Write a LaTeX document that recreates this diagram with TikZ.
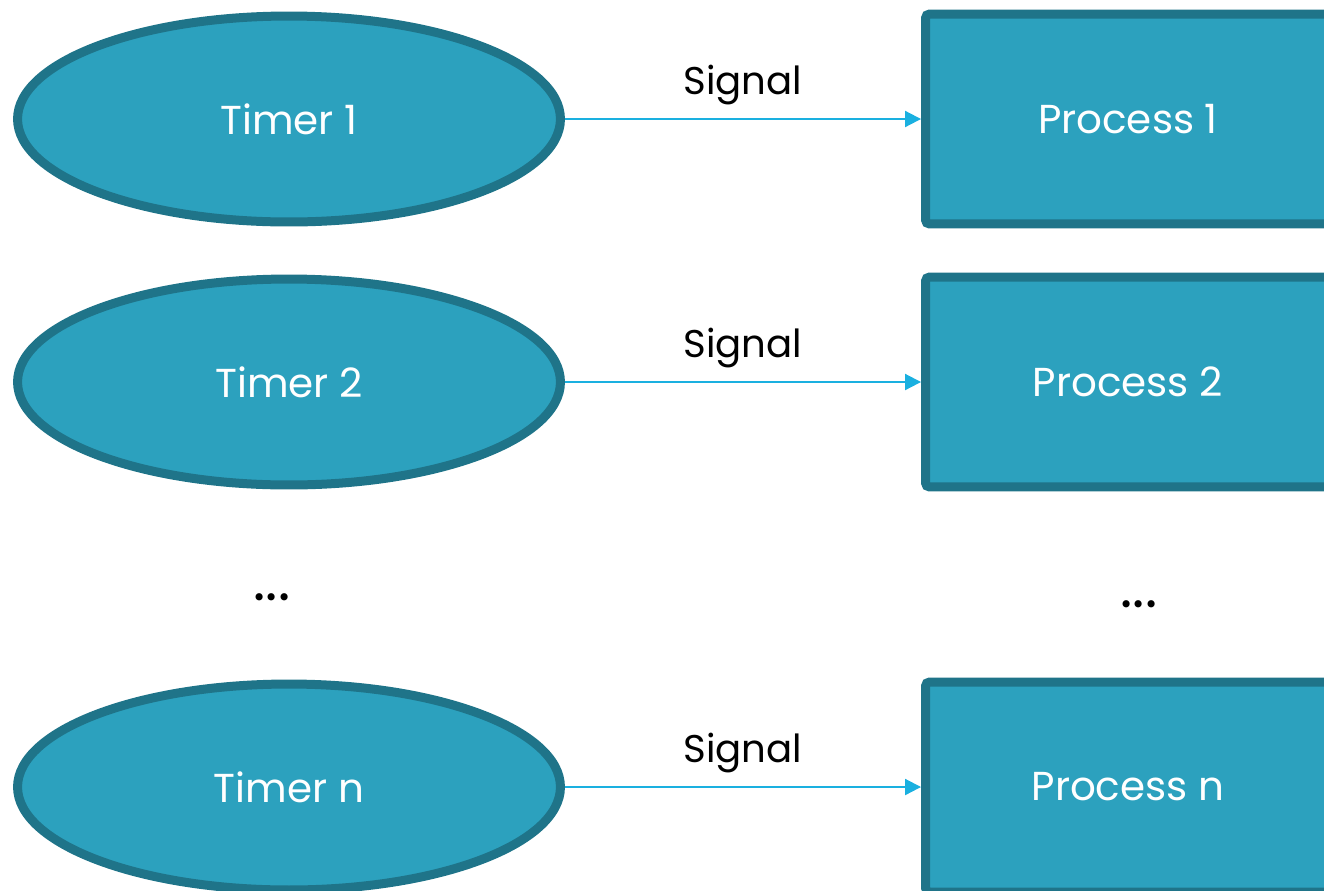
\documentclass[tikz,border=0pt]{standalone}
\usepackage{fontspec}
\setmainfont{Poppins}
\usetikzlibrary{shapes.geometric,arrows.meta}
\definecolor{timerfill}{HTML}{2CA1BE}
\definecolor{timerdraw}{HTML}{1F7489}
\definecolor{signalblue}{HTML}{1AB0E0}

\begin{document}
\begin{tikzpicture}
	[x=0.02cm, y=-0.02cm,
	timer/.style ={ellipse, draw=timerdraw, line width=0.18cm, fill=timerfill, text=white, minimum width=10.86cm, minimum height=4.12cm, inner sep=0pt, font=\fontsize{23}{28}\selectfont},
	proc/.style ={rectangle, draw=timerdraw, line width=0.18cm, fill=timerfill, text=white, rounded corners=0.08cm, minimum width=8.1cm, minimum height=4.2cm, inner sep=0pt, font=\fontsize{23}{28}\selectfont},
	line/.style ={draw=signalblue, line width=0.04cm, -{Triangle[length=0.32cm,width=0.32cm]}},
	lbl/.style ={above=0.15cm, text=black, font=\fontsize{22}{27}\selectfont},
	dots/.style ={text=black, font=\fontsize{33}{36}\selectfont}]
	\useasboundingbox (0,0) rectangle (1324,890);
	\clip (0,0) rectangle (1324,890);
	\draw (289, 119) node[timer] (t1) {Timer 1};
	\draw (289, 382) node[timer] (t2) {Timer 2};
	\draw (289, 787) node[timer] (tn) {Timer n};
	\draw (1128, 119) node[proc] (p1) {Process 1};
	\draw (1128, 382) node[proc] (p2) {Process 2};
	\draw (1128, 787) node[proc] (pn) {Process n};
	\draw (272, 597) node[dots] (tdots) {...};
	\draw (1139, 604) node[dots] (pdots) {...};
	\draw[line] (t1) -- node[lbl] {Signal} (p1);
	\draw[line] (t2) -- node[lbl] {Signal} (p2);
	\draw[line] (tn) -- node[lbl] {Signal} (pn);
\end{tikzpicture}
\end{document}
